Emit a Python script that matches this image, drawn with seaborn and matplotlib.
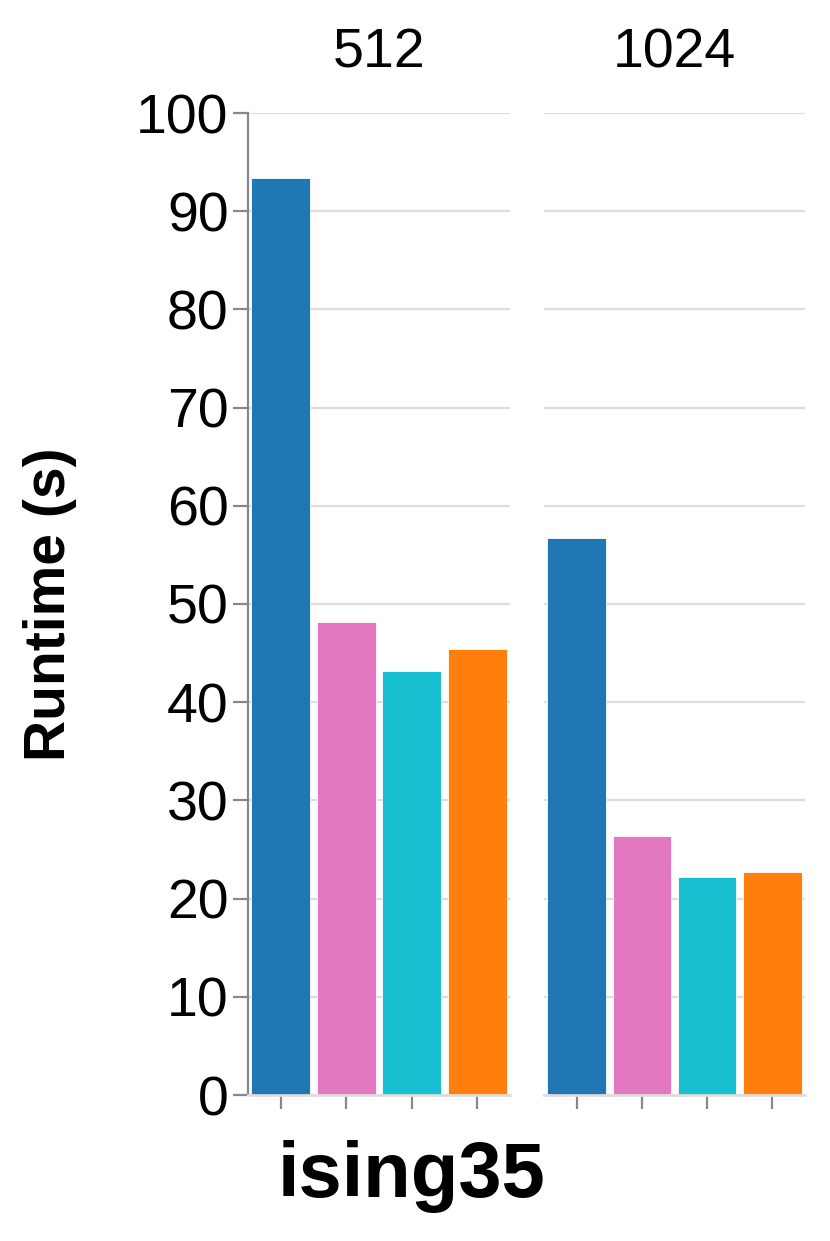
import numpy as np
import pandas as pd
import matplotlib
matplotlib.use("Agg")
import matplotlib.pyplot as plt
import seaborn as sns

# ---- data ----
facets = ["512", "1024"]
methods = ["method A", "method B", "method C", "method D"]
runtime_512 = [93.4, 48.2, 43.2, 45.4]
runtime_1024 = [56.7, 26.4, 22.2, 22.7]
colors = ["#1f77b4", "#e377c2", "#17becf", "#ff7f0e"]
yticks = [0, 10, 20, 30, 40, 50, 60, 70, 80, 90, 100]
benchmark = "ising35"
ylabel = "Runtime (s)"

sns.set_theme(style="white")
plt.rcParams["font.family"] = ["Liberation Sans", "DejaVu Sans"]
plt.rcParams["text.color"] = "black"
plt.rcParams["axes.labelcolor"] = "black"

df = pd.DataFrame({
    "facet": np.repeat(facets, len(methods)),
    "method": methods * len(facets),
    "runtime": runtime_512 + runtime_1024,
})

W, H = 830, 1241
fig = plt.figure(figsize=(W / 100, H / 100), dpi=100)


def rect(x0, x1, y0, y1):
    return [x0 / W, 1 - y1 / H, (x1 - x0) / W, (y1 - y0) / H]


axes = [fig.add_axes(rect(248, 510, 113, 1095)),
        fig.add_axes(rect(544, 805, 113, 1095))]

palette = dict(zip(methods, colors))
for i, (ax, f) in enumerate(zip(axes, facets)):
    sub = df[df["facet"] == f]
    sns.barplot(data=sub, x="method", y="runtime", hue="method", order=methods,
                hue_order=methods, palette=palette, saturation=1, width=0.9,
                legend=False, ax=ax, edgecolor="white", linewidth=0.6)
    ax.set_xlim(-0.5, len(methods) - 0.5)
    ax.set_ylim(0, 100)
    ax.set_yticks(yticks)
    ax.set_axisbelow(True)
    ax.yaxis.grid(True, color="#dddddd", linewidth=1.6)
    ax.xaxis.grid(False)
    ax.set_xlabel("")
    ax.set_ylabel("")
    ax.set_xticks(range(len(methods)))
    ax.set_xticklabels([""] * len(methods))
    ax.tick_params(axis="x", bottom=True, length=10, width=1.6, color="#888888",
                   direction="out", pad=0)
    for s in ["top", "right"]:
        ax.spines[s].set_visible(False)
    ax.spines["bottom"].set_color("#dddddd")
    ax.spines["bottom"].set_linewidth(2)
    if i == 0:
        ax.spines["left"].set_color("#888888")
        ax.spines["left"].set_linewidth(1.6)
        ax.tick_params(axis="y", left=True, length=11, width=1.6, color="#888888",
                       labelsize=40, pad=3, labelcolor="black")
    else:
        ax.spines["left"].set_visible(False)
        ax.tick_params(axis="y", left=False, labelleft=False)
    ax.set_title(f, fontsize=40, pad=33, color="black")

fig.text(50 / W, 1 - 604 / H, ylabel, rotation=90, fontsize=41, fontweight="bold",
         ha="center", va="center", color="black")
fig.text(411 / W, 1 - 1197 / H, benchmark, fontsize=56, fontweight="bold",
         ha="center", va="baseline", color="black")

fig.savefig("out.png", dpi=100)
